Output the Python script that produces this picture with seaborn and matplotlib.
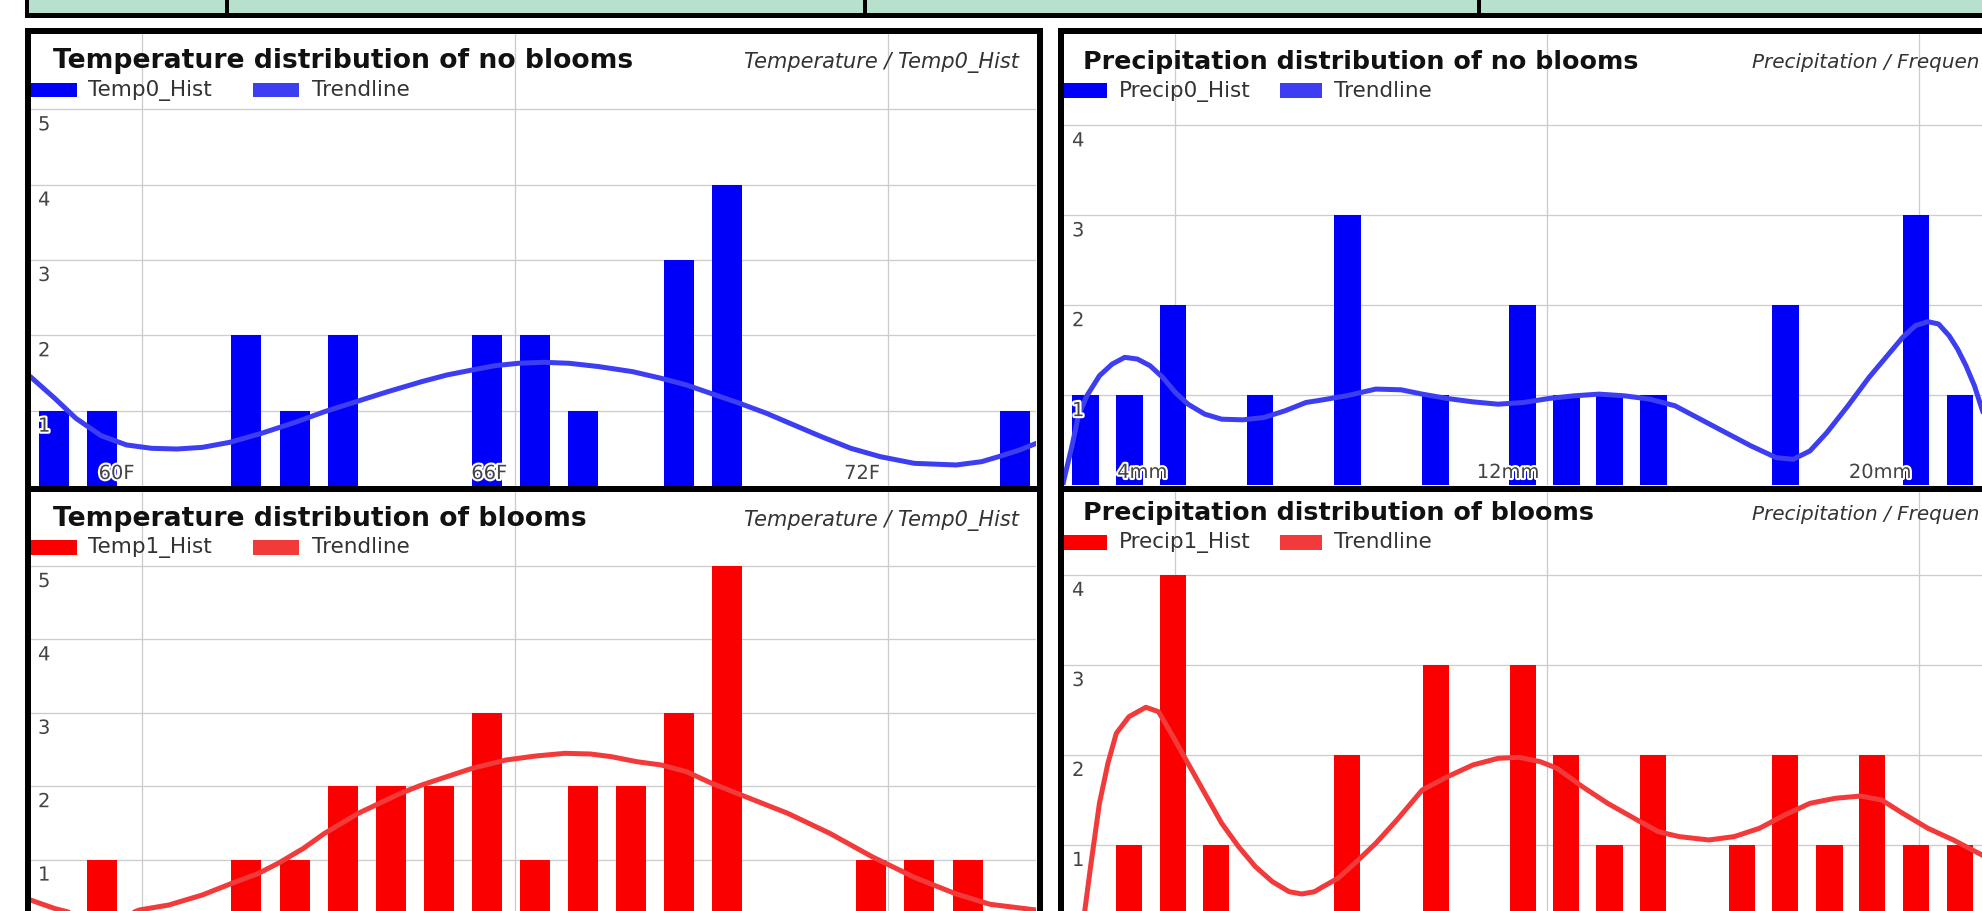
import numpy as np
import pandas as pd
import matplotlib
matplotlib.use("Agg")
import matplotlib.pyplot as plt
import matplotlib.patheffects as pe
from matplotlib.patches import Rectangle
import seaborn as sns

# ---------------- data ----------------
temp_tick_values = [60, 66, 72]
temp_tick_labels = ["60F", "66F", "72F"]
precip_tick_values = [4, 12, 20]
precip_tick_labels = ["4mm", "12mm", "20mm"]
temp_count_ticks = [1, 2, 3, 4, 5]
precip_count_ticks = [1, 2, 3, 4]

temp0_bins = [58.58, 59.35, 61.67, 62.45, 63.22, 65.54, 66.32, 67.09, 68.64, 69.41, 74.05]
temp0_counts = [1, 1, 2, 1, 2, 2, 2, 1, 3, 4, 1]
temp0_trend_x = [58.195, 58.588, 58.928, 59.335, 59.742, 60.150, 60.557, 60.964, 61.405, 61.914,
                 62.457, 62.931, 63.440, 63.951, 64.493, 64.900, 65.307, 65.681, 66.053, 66.460,
                 66.867, 67.344, 67.886, 68.347, 68.754, 69.141, 69.609, 70.043, 70.383, 70.926,
                 71.401, 71.876, 72.420, 73.097, 73.505, 73.777, 74.116, 74.387]
temp0_trend_y = [1.452, 1.164, 0.899, 0.668, 0.545, 0.500, 0.491, 0.513, 0.580, 0.699,
                 0.845, 0.987, 1.120, 1.253, 1.385, 1.474, 1.540, 1.598, 1.629, 1.642,
                 1.629, 1.585, 1.518, 1.430, 1.341, 1.231, 1.098, 0.965, 0.845, 0.655,
                 0.500, 0.389, 0.301, 0.279, 0.323, 0.389, 0.478, 0.567]

temp1_bins = [59.35, 61.67, 62.45, 63.22, 64.00, 64.77, 65.54, 66.32, 67.09, 67.86, 68.64, 69.41,
              71.73, 72.50, 73.28]
temp1_counts = [1, 1, 1, 2, 2, 2, 3, 1, 2, 2, 3, 5, 1, 1, 1]
temp1_trend_x = [58.195, 58.60, 58.93, 59.33, 59.74, 59.946, 60.421, 60.964, 61.439, 61.846,
                 62.185, 62.592, 62.931, 63.203, 63.474, 63.814, 64.153, 64.493, 64.900, 65.307,
                 65.850, 66.325, 66.800, 67.207, 67.547, 67.954, 68.347, 68.754, 69.162, 69.636,
                 70.383, 71.061, 71.740, 72.420, 73.097, 73.640, 74.387]
temp1_trend_y = [0.450, 0.33, 0.26, 0.22, 0.24, 0.313, 0.381, 0.518, 0.677, 0.804,
                 0.950, 1.154, 1.358, 1.494, 1.631, 1.767, 1.903, 2.016, 2.130, 2.243,
                 2.357, 2.411, 2.448, 2.439, 2.402, 2.334, 2.289, 2.198, 2.039, 1.880,
                 1.631, 1.358, 1.040, 0.759, 0.531, 0.391, 0.313]

precip0_bins = [2.07, 3.01, 3.95, 5.82, 7.70, 9.60, 11.47, 12.41, 13.34, 14.28, 17.12, 19.93, 20.88]
precip0_counts = [1, 1, 2, 1, 3, 1, 2, 1, 1, 1, 2, 3, 1]
precip0_trend_x = [1.55, 1.598, 1.778, 1.916, 2.097, 2.368, 2.641, 2.912, 3.185, 3.456, 3.729,
                   4.000, 4.273, 4.634, 4.998, 5.452, 5.905, 6.357, 6.811, 7.145, 7.677,
                   8.312, 8.856, 9.310, 9.854, 10.398, 10.942, 11.486, 12.030, 12.574, 13.116,
                   13.660, 14.204, 14.748, 15.292, 15.837, 16.381, 16.925, 17.288, 17.650,
                   18.013, 18.467, 18.920, 19.372, 19.645, 19.916, 20.189, 20.415, 20.642,
                   20.824, 21.005, 21.187, 21.349, 21.60]
precip0_trend_y = [-0.10, 0.045, 0.435, 0.769, 0.992, 1.215, 1.345, 1.420, 1.401, 1.327, 1.197,
                   1.030, 0.899, 0.788, 0.732, 0.725, 0.751, 0.825, 0.918, 0.945, 0.992,
                   1.067, 1.059, 1.011, 0.962, 0.925, 0.899, 0.918, 0.962, 0.992, 1.011,
                   0.992, 0.955, 0.881, 0.732, 0.583, 0.435, 0.304, 0.286, 0.379,
                   0.583, 0.881, 1.197, 1.475, 1.643, 1.773, 1.817, 1.791, 1.661,
                   1.513, 1.327, 1.104, 0.844, 0.45]

precip1_bins = [3.01, 3.95, 4.88, 7.70, 9.60, 11.47, 12.41, 13.34, 14.28, 16.18, 17.12, 18.07,
                18.99, 19.93, 20.88]
precip1_counts = [1, 4, 1, 2, 3, 3, 2, 1, 2, 1, 2, 1, 2, 1, 1]
precip1_trend_x = [1.85, 2.052, 2.187, 2.368, 2.550, 2.731, 3.004, 3.366, 3.639, 3.910, 4.273,
                   4.634, 4.998, 5.361, 5.723, 6.086, 6.449, 6.720, 6.994, 7.145, 7.497,
                   7.858, 8.312, 8.766, 9.310, 9.854, 10.398, 10.942, 11.394, 11.847, 12.211,
                   12.755, 13.299, 13.933, 14.387, 14.839, 15.475, 16.019, 16.561, 17.105,
                   17.650, 18.194, 18.738, 19.191, 19.645, 20.189, 20.733, 21.349, 21.70]
precip1_trend_y = [-0.60, 0.267, 0.796, 1.463, 1.907, 2.241, 2.426, 2.530, 2.481, 2.241, 1.907,
                   1.574, 1.241, 0.981, 0.759, 0.593, 0.481, 0.456, 0.481, 0.528, 0.630,
                   0.796, 1.019, 1.278, 1.611, 1.759, 1.889, 1.963, 1.974, 1.926, 1.852,
                   1.648, 1.463, 1.278, 1.148, 1.093, 1.056, 1.093, 1.185, 1.333,
                   1.463, 1.519, 1.544, 1.500, 1.352, 1.185, 1.056, 0.889, 0.80]

titles = ["Temperature distribution of no blooms", "Precipitation distribution of no blooms",
          "Temperature distribution of blooms", "Precipitation distribution of blooms"]
subtitles = ["Temperature / Temp0_Hist", "Precipitation / Frequen",
             "Temperature / Temp0_Hist", "Precipitation / Frequen"]
series_names = ["Temp0_Hist", "Precip0_Hist", "Temp1_Hist", "Precip1_Hist"]
trend_name = "Trendline"

BLUE_BAR = "#0000fa"
BLUE_LINE = "#3d3df2"
RED_BAR = "#fa0000"
RED_LINE = "#f23a3a"
GRID = "#cccccc"
LABEL = "#444444"

# ---------------- figure ----------------
W, H, DPI = 1982, 911, 100
sns.set_theme(style="white")
plt.rcParams['font.family'] = ['DejaVu Sans']

fig = plt.figure(figsize=(W / DPI, H / DPI), dpi=DPI, facecolor="white")


def fx(px):
    return px / W


def fy(py):
    return 1 - py / H


def frect(x0, y0, x1, y1, **kw):
    r = Rectangle((fx(x0), fy(y1)), (x1 - x0) / W, (y1 - y0) / H,
                  transform=fig.transFigure, **kw)
    fig.add_artist(r)
    return r


PX = 72 / DPI  # points per pixel
halo = [pe.withStroke(linewidth=3, foreground="white")]

panels = [
    dict(box=(30, 1036, 34, 486), xlim=(58.19, 74.38), ylim=(0, 6.0),
         bins=temp0_bins, counts=temp0_counts, tx=temp0_trend_x, ty=temp0_trend_y,
         bar=BLUE_BAR, line=BLUE_LINE, xt=temp_tick_values, xl=temp_tick_labels, show_x=True,
         yt=temp_count_ticks, width=0.627,
         title_xy=(52.7, 68.5), tsize=19.2, sub_xy=(1018.5, 68.3), sub_ha="right", ssize=15,
         leg_y=(82.7, 97.3), leg_base=96.0, sw=((30.4, 76.7), (253, 298.5)), lt=(88.5, 312)),
    dict(box=(1064, 2075, 34, 485), xlim=(1.606, 23.35), ylim=(0, 5.017),
         bins=precip0_bins, counts=precip0_counts, tx=precip0_trend_x, ty=precip0_trend_y,
         bar=BLUE_BAR, line=BLUE_LINE, xt=precip_tick_values, xl=precip_tick_labels, show_x=True,
         yt=precip_count_ticks, width=0.613,
         title_xy=(1082.6, 69.0), tsize=18.3, sub_xy=(1751.8, 68.5), sub_ha="left", ssize=14.4,
         leg_y=(83, 97.5), leg_base=96.7, sw=((1064, 1107), (1280, 1322)), lt=(1118.4, 1334)),
    dict(box=(30, 1036, 492, 933), xlim=(58.19, 74.38), ylim=(0, 6.008),
         bins=temp1_bins, counts=temp1_counts, tx=temp1_trend_x, ty=temp1_trend_y,
         bar=RED_BAR, line=RED_LINE, xt=temp_tick_values, xl=temp_tick_labels, show_x=False,
         yt=temp_count_ticks, width=0.627,
         title_xy=(52.7, 526.0), tsize=19.2, sub_xy=(1018.5, 526.0), sub_ha="right", ssize=15,
         leg_y=(540, 555), leg_base=553.3, sw=((30.4, 76.7), (253, 298.5)), lt=(88.5, 312)),
    dict(box=(1064, 2075, 492, 935), xlim=(1.606, 23.35), ylim=(0, 4.922),
         bins=precip1_bins, counts=precip1_counts, tx=precip1_trend_x, ty=precip1_trend_y,
         bar=RED_BAR, line=RED_LINE, xt=precip_tick_values, xl=precip_tick_labels, show_x=False,
         yt=precip_count_ticks, width=0.613,
         title_xy=(1082.6, 520.0), tsize=18.3, sub_xy=(1751.8, 520.0), sub_ha="left", ssize=14.4,
         leg_y=(535, 550), leg_base=548.3, sw=((1064, 1107), (1280, 1322)), lt=(1118.4, 1334)),
]

for i, p in enumerate(panels):
    x0, x1, y0, y1 = p["box"]
    ax = fig.add_axes([fx(x0), fy(y1), (x1 - x0) / W, (y1 - y0) / H])
    ax.set_facecolor("white")
    df = pd.DataFrame({"x": p["bins"], "n": p["counts"]})
    sns.barplot(data=df, x="x", y="n", orient="x", native_scale=True, width=p["width"],
                color=p["bar"], saturation=1, errorbar=None, ax=ax, linewidth=0, zorder=2)
    tdf = pd.DataFrame({"x": p["tx"], "y": p["ty"]})
    sns.lineplot(data=tdf, x="x", y="y", estimator=None, sort=True, color=p["line"],
                 linewidth=5 * PX, ax=ax, zorder=3,
                 solid_capstyle="round", solid_joinstyle="round")
    ax.set_xlim(*p["xlim"])
    ax.set_ylim(*p["ylim"])
    ax.set_xticks(p["xt"])
    ax.set_yticks(p["yt"])
    ax.grid(True, color=GRID, linewidth=1.3 * PX)
    ax.set_axisbelow(True)
    ax.tick_params(length=0, labelbottom=False, labelleft=False)
    ax.set_xlabel("")
    ax.set_ylabel("")
    for s in ax.spines.values():
        s.set_visible(False)

    for v in p["yt"]:
        ax.annotate(str(v), xy=(0, v), xycoords=("axes fraction", "data"),
                    xytext=(8 * PX, -21 * PX), textcoords="offset points",
                    ha="left", va="baseline", fontsize=14, color=LABEL,
                    path_effects=halo, zorder=6, annotation_clip=False)
    if p["show_x"]:
        for v, lab in zip(p["xt"], p["xl"]):
            ax.annotate(lab, xy=(v, 0), xycoords=("data", "axes fraction"),
                        xytext=(-8 * PX, 7 * PX), textcoords="offset points",
                        ha="right", va="baseline", fontsize=14, color=LABEL,
                        path_effects=halo, zorder=6, annotation_clip=False)

    # title, subtitle, legend
    fig.text(fx(p["title_xy"][0]), fy(p["title_xy"][1]), titles[i], ha="left", va="baseline",
             fontsize=p["tsize"], fontweight="bold", color="#111111", zorder=8)
    fig.text(fx(p["sub_xy"][0]), fy(p["sub_xy"][1]), subtitles[i], ha=p["sub_ha"],
             va="baseline", fontsize=p["ssize"], fontstyle="italic", color="#333333", zorder=8)
    (sa0, sa1), (sb0, sb1) = p["sw"]
    ly0, ly1 = p["leg_y"]
    frect(sa0, ly0, sa1, ly1, facecolor=p["bar"], edgecolor="none", zorder=8)
    frect(sb0, ly0, sb1, ly1, facecolor=p["line"], edgecolor="none", zorder=8)
    fig.text(fx(p["lt"][0]), fy(p["leg_base"]), series_names[i], ha="left", va="baseline",
             fontsize=15.5, color="#333333", zorder=8)
    fig.text(fx(p["lt"][1]), fy(p["leg_base"]), trend_name, ha="left", va="baseline",
             fontsize=15.5, color="#333333", zorder=8)

# panel frames
frame_kw = dict(fill=False, edgecolor="black", linewidth=6 * PX, zorder=20)
frect(27.5, 31, 1039.5, 489, **frame_kw)
frect(27.5, 489, 1039.5, 1010, **frame_kw)
frect(1060.5, 31, 2100, 489, **frame_kw)
frect(1060.5, 489, 2100, 1010, **frame_kw)

# top strip (spreadsheet cells)
frect(25, 0, 1982, 13, facecolor="#b7e1cd", edgecolor="none", zorder=21)
frect(25, 12.5, 1982, 17.5, facecolor="black", edgecolor="none", zorder=22)
for xv in [27, 227, 865, 1479]:
    frect(xv - 1.75, 0, xv + 1.75, 17, facecolor="black", edgecolor="none", zorder=22)

fig.savefig("out.png", dpi=DPI, facecolor="white")
